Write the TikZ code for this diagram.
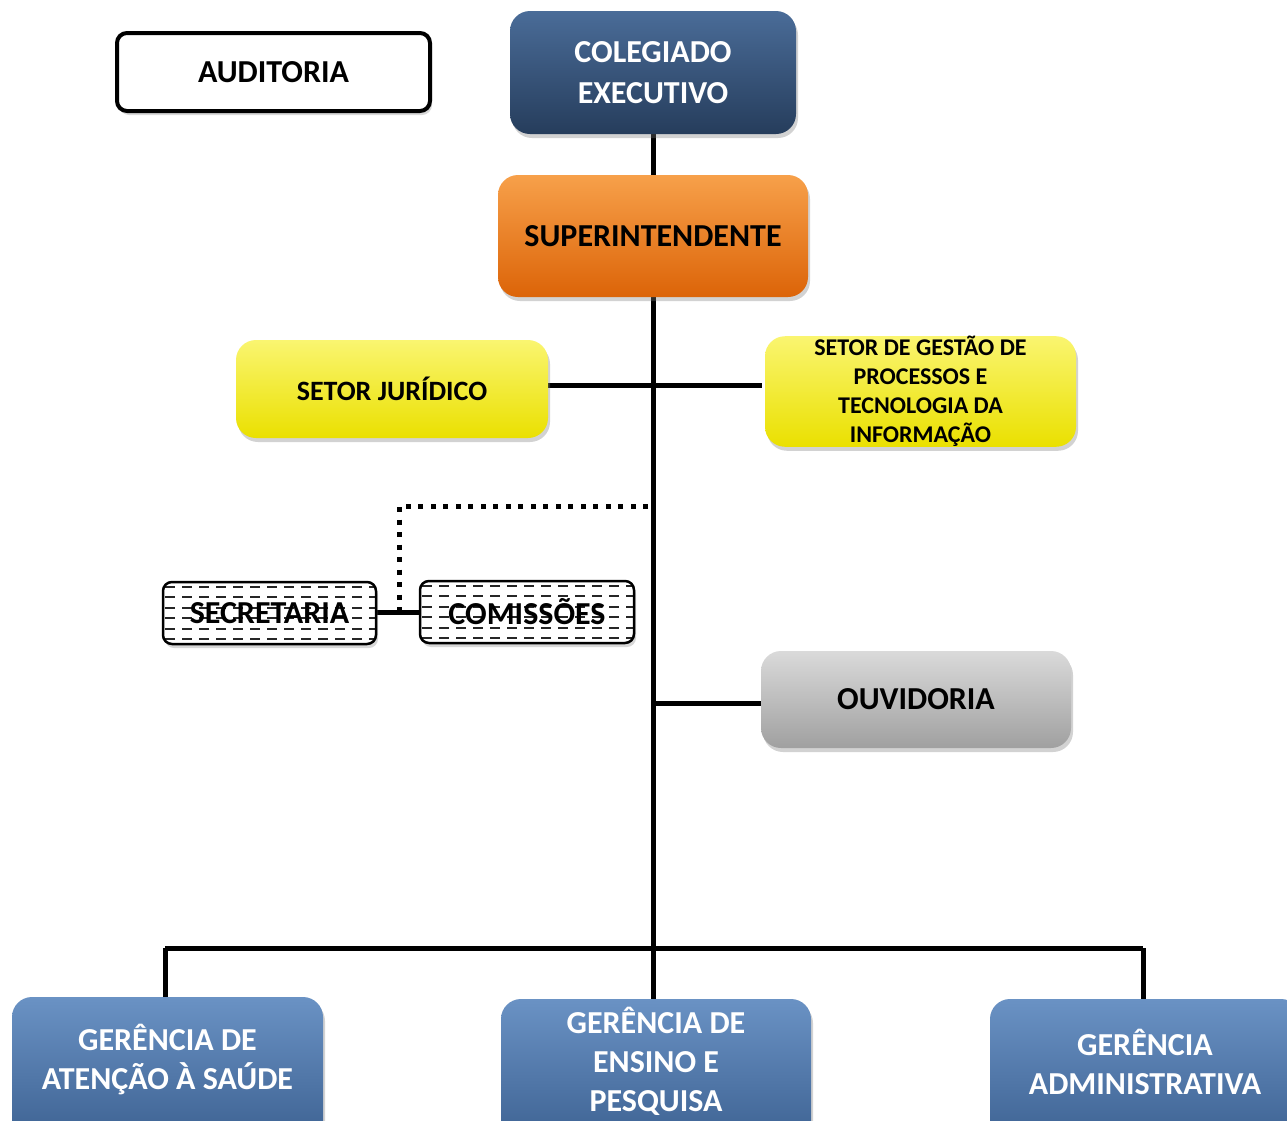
\documentclass[tikz,border=0pt]{standalone}
\usepackage{fontspec}
\setmainfont{Carlito}
\usetikzlibrary{shadows}
\definecolor{navyA}{HTML}{4A6C98}
\definecolor{navyM}{HTML}{2B4466}
\definecolor{navyB}{HTML}{263D5C}
\definecolor{oranA}{HTML}{F7A04A}
\definecolor{oranM}{HTML}{E36C0A}
\definecolor{oranB}{HTML}{DC6408}
\definecolor{yelA}{HTML}{FAF570}
\definecolor{yelM}{HTML}{F2EA0A}
\definecolor{yelB}{HTML}{EAE000}
\definecolor{grayA}{HTML}{DADADA}
\definecolor{grayM}{HTML}{A8A8A8}
\definecolor{grayB}{HTML}{A0A0A0}
\definecolor{bluA}{HTML}{6A92C4}
\definecolor{bluM}{HTML}{3B6194}
\definecolor{bluB}{HTML}{365A8A}
\tikzset{
  orgbox/.style={rounded corners=20pt, draw=none, align=center, font=\bfseries,
     drop shadow={opacity=0.35, shadow xshift=2pt, shadow yshift=-4pt}},
  navybox/.style={orgbox, top color=navyA, middle color=navyM, bottom color=navyB, text=white},
  orangebox/.style={orgbox, top color=oranA, middle color=oranM, bottom color=oranB, text=black},
  yellowbox/.style={orgbox, top color=yelA, middle color=yelM, bottom color=yelB, text=black},
  graybox/.style={orgbox, top color=grayA, middle color=grayM, bottom color=grayB, text=black},
  bluebox/.style={orgbox, top color=bluA, middle color=bluM, bottom color=bluB, text=white},
  dashbox/.style={rounded corners=9pt, draw=black, line width=2.5pt, fill=white, align=center,
     font=\bfseries, text=black,
     drop shadow={opacity=0.3, shadow xshift=2pt, shadow yshift=-4pt},
     path picture={
       \foreach \k in {-26,-16,-5,5,16,26}
         \draw[black!85, line width=1.6pt, dash pattern=on 10pt off 7pt]
           ([yshift=\k pt, xshift=2pt]path picture bounding box.west) -- ([yshift=\k pt]path picture bounding box.east);
     }},
  plainbox/.style={rounded corners=10pt, draw=black, line width=4pt, fill=white, align=center,
     font=\bfseries, text=black,
     drop shadow={opacity=0.3, shadow xshift=2pt, shadow yshift=-4pt}},
  link/.style={line width=5pt, black},
  dotlink/.style={line width=5pt, black, dash pattern=on 5pt off 7.5pt}
}
\begin{document}
\begin{tikzpicture}[x=1pt,y=-1pt]
\useasboundingbox (0,0) rectangle (1287,1120);
\clip (0,0) rectangle (1287,1120);
\fill[white] (0,0) rectangle (1287,1120);

% coordinates for connector bends
\coordinate (trunkB) at (653,948);
\coordinate (hl) at (165,948);
\coordinate (hr) at (1143,948);
\coordinate (dotR) at (648,506);
\coordinate (dotL) at (399,506);
\coordinate (dotD) at (399,612);
\coordinate (ouvL) at (653,703);

% connectors (drawn first, under boxes)
\draw[link] (653,134) -- (trunkB);
\draw[link] (548,385) -- (762,385);
\draw[link] (ouvL) -- (761,703);
\draw[link] (hl) -- (hr);
\draw[link] (hl) -- (165,997);
\draw[link] (hr) -- (1143,999);
\draw[link] (trunkB) -- (653,999);
\draw[dotlink] (dotR) -- (dotL) -- (dotD);
\draw[link] (376,612) -- (420,612);

% nodes
\node[plainbox, minimum width=313pt, minimum height=78pt, font=\bfseries\fontsize{32}{36}\selectfont]
  (aud) at (273.5,72) {AUDITORIA};
\node[navybox, minimum width=286pt, minimum height=123pt, font=\bfseries\fontsize{32}{41}\selectfont]
  (col) at (653,72.5) {COLEGIADO\\EXECUTIVO};
\node[orangebox, minimum width=310pt, minimum height=122pt, font=\bfseries\fontsize{32}{36}\selectfont]
  (sup) at (653,236) {SUPERINTENDENTE};
\node[yellowbox, minimum width=312pt, minimum height=98pt, font=\bfseries\fontsize{28}{32}\selectfont]
  (jur) at (392,389) {SETOR JURÍDICO};
\node[yellowbox, minimum width=311pt, minimum height=109pt, inner sep=0pt, font=\bfseries\fontsize{24}{29}\selectfont]
  (ges) at (920.5,391.5) {SETOR DE GESTÃO DE\\PROCESSOS E\\TECNOLOGIA DA\\INFORMAÇÃO};
\node[dashbox, minimum width=213pt, minimum height=62pt, inner sep=0pt, font=\bfseries\fontsize{32}{34}\selectfont]
  (sec) at (269.5,613) {SECRETARIA};
\node[dashbox, minimum width=214pt, minimum height=62pt, inner sep=0pt, font=\bfseries\fontsize{32}{34}\selectfont]
  (com) at (527,612) {COMISSÕES};
\node[graybox, minimum width=310pt, minimum height=97pt, font=\bfseries\fontsize{32}{36}\selectfont]
  (ouv) at (916,699.5) {OUVIDORIA};
\node[bluebox, minimum width=311pt, minimum height=166pt]
  (gas) at (167.5,1080) {};
\node[font=\bfseries\fontsize{32}{39}\selectfont, text=white, align=center] (gasT) at (167.5,1059.5) {GERÊNCIA DE\\ATENÇÃO À SAÚDE};
\node[bluebox, minimum width=310pt, minimum height=166pt]
  (gep) at (656,1082) {};
\node[font=\bfseries\fontsize{32}{39}\selectfont, text=white, align=center] (gepT) at (656,1061) {GERÊNCIA DE\\ENSINO E\\PESQUISA};
\node[bluebox, minimum width=311pt, minimum height=166pt]
  (gad) at (1145.5,1082) {};
\node[font=\bfseries\fontsize{32}{39}\selectfont, text=white, align=center] (gadT) at (1145,1061.5) {GERÊNCIA\\ADMINISTRATIVA};
\end{tikzpicture}
\end{document}
